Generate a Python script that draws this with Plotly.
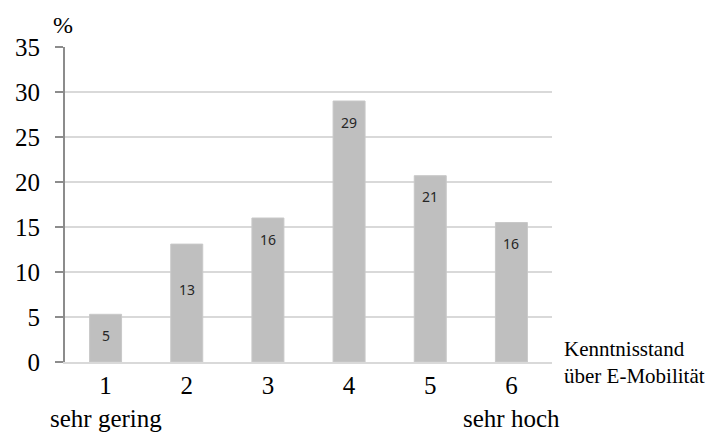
import plotly.graph_objects as go

# Kenntnisstand über E-Mobilität, Anteil der Befragten in %
levels = ["1", "2", "3", "4", "5", "6"]
shares = [5.3, 13.1, 16.0, 29.0, 20.7, 15.5]
scale_ends = {"1": "sehr gering", "6": "sehr hoch"}
y_ticks = [0, 5, 10, 15, 20, 25, 30, 35]

serif = "Liberation Serif, Times New Roman, serif"
bar_color = "#bfbfbf"

fig = go.Figure(
    go.Bar(
        x=levels,
        y=shares,
        marker=dict(color=bar_color, line=dict(color="#c8c8c8", width=1)),
        hoverinfo="skip",
    )
)

# value labels inside the bars, rounded to whole percent
for i, val in enumerate(shares):
    shift = -45 if i == 1 else -21
    fig.add_annotation(
        x=i, y=val, yshift=shift, text=f"{val:.0f}", showarrow=False,
        font=dict(family="Noto Sans, DejaVu Sans, sans-serif", size=14, color="#262626"),
        yanchor="middle",
    )

# descriptions of the scale ends under the tick numbers
for lvl, txt in scale_ends.items():
    fig.add_annotation(
        x=levels.index(lvl), y=0, yref="y", yshift=-56, text=txt, showarrow=False,
        font=dict(family=serif, size=25, color="#000000"),
        yanchor="middle",
    )

fig.add_annotation(
    xref="paper", yref="paper", x=0, y=1, xshift=-2, yshift=22,
    text="%", showarrow=False, font=dict(family=serif, size=24, color="#000000"),
    xanchor="center", yanchor="middle",
)
fig.add_annotation(
    xref="paper", yref="paper", x=1, y=0, xshift=10, yshift=0,
    text="Kenntnisstand<br>über E-Mobilität", showarrow=False, align="left",
    font=dict(family=serif, size=21, color="#000000"),
    xanchor="left", yanchor="middle",
)

fig.update_layout(
    width=711,
    height=432,
    margin=dict(l=65, r=159, t=47, b=70),
    paper_bgcolor="white",
    plot_bgcolor="white",
    bargap=0.606,
    showlegend=False,
    xaxis=dict(
        type="category",
        range=[-0.5, len(levels) - 0.5],
        showgrid=False,
        showline=True,
        linecolor="#d9d9d9",
        linewidth=2,
        ticks="",
        tickfont=dict(family=serif, size=25, color="#000000"),
        fixedrange=True,
    ),
    yaxis=dict(
        range=[0, 35],
        tickvals=y_ticks,
        showgrid=True,
        gridcolor="#d9d9d9",
        gridwidth=2,
        showline=True,
        linecolor="#8c8c8c",
        linewidth=2,
        ticks="outside",
        ticklen=8,
        tickwidth=2,
        tickcolor="#8c8c8c",
        ticklabelstandoff=10,
        tickfont=dict(family=serif, size=25, color="#000000"),
        zeroline=False,
        fixedrange=True,
    ),
)

fig.write_html("out.html")
